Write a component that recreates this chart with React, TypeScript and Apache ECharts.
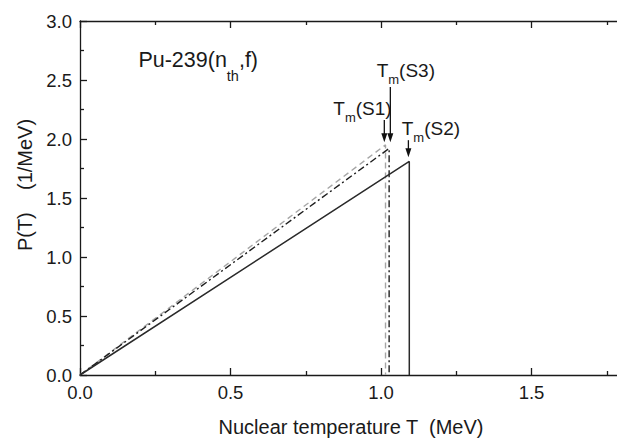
import { useEffect, useRef } from "react";
import * as echarts from "echarts";

// Series data: nuclear temperature T (MeV) and P(T) (1/MeV)
const S1_T = [0, 1.015, 1.015];
const S1_P = [0, 1.95, 0];
const S3_T = [0, 1.027, 1.027];
const S3_P = [0, 1.92, 0];
const S2_T = [0, 1.094, 1.094];
const S2_P = [0, 1.81, 0];

// Axis ranges / ticks
const X_MIN = 0;
const X_MAX = 2;
const X_INTERVAL = 0.5;
const Y_MIN = 0;
const Y_MAX = 3;
const Y_INTERVAL = 0.5;

// Annotations (data coordinates)
const ARROW_T = [1.011, 1.031, 1.091];
const ARROW_TOP = [2.16, 2.44, 1.99];
const ARROW_TIP = [1.973, 1.973, 1.845];
const LABEL_NAMES = ["S1", "S3", "S2"];
const LABEL_T = [0.8415, 0.9857, 1.0688];
const LABEL_P = [2.187, 2.512, 2.018];
const TITLE_T = 0.194;
const TITLE_P = 2.597;

const FONT = "'Liberation Sans', Arial, Helvetica, sans-serif";
const AXIS_COLOR = "#1a1a1a";
const TEXT_COLOR = "#1a1a1a";

const zip = (a: number[], b: number[]) => a.map((v, i) => [v, b[i]]);

export default function App() {
  const ref = useRef<HTMLDivElement>(null);

  useEffect(() => {
    if (!ref.current) return;
    const chart = echarts.init(ref.current, undefined, { renderer: "svg" });

    const axisLine = { show: true, onZero: false, lineStyle: { color: AXIS_COLOR, width: 1.3 } };
    const axisTick = { show: true, inside: true, length: 7, lineStyle: { color: AXIS_COLOR, width: 1.3 } };
    const minorTick = { show: true, splitNumber: 2, length: 4, lineStyle: { color: AXIS_COLOR, width: 1.3 } };
    const fmt = (v: number) => v.toFixed(1);

    const option: any = {
      animation: false,
      backgroundColor: "#ffffff",
      grid: {
        left: 80,
        top: 21,
        bottom: 67,
        right: 0,
        containLabel: false,
        outerBoundsMode: "none",
      },
      xAxis: [
        {
          type: "value",
          min: X_MIN,
          max: X_MAX,
          interval: X_INTERVAL,
          position: "bottom",
          axisLine,
          axisTick,
          minorTick,
          splitLine: { show: false },
          minorSplitLine: { show: false },
          axisLabel: {
            margin: 8,
            fontSize: 18.5,
            color: TEXT_COLOR,
            fontFamily: FONT,
            formatter: fmt,
            showMaxLabel: false,
          },
          name: "Nuclear temperature T  (MeV)",
          nameLocation: "middle",
          nameGap: 42,
          nameTextStyle: {
            fontSize: 20,
            lineHeight: 20,
            color: TEXT_COLOR,
            fontFamily: FONT,
            padding: [0, 60, 0, 0],
          },
        },
        {
          type: "value",
          min: X_MIN,
          max: X_MAX,
          interval: X_INTERVAL,
          position: "top",
          axisLine,
          axisTick,
          minorTick,
          splitLine: { show: false },
          minorSplitLine: { show: false },
          axisLabel: { show: false },
        },
      ],
      yAxis: [
        {
          type: "value",
          min: Y_MIN,
          max: Y_MAX,
          interval: Y_INTERVAL,
          position: "left",
          axisLine,
          axisTick,
          minorTick,
          splitLine: { show: false },
          minorSplitLine: { show: false },
          axisLabel: { margin: 8, fontSize: 18.5, color: TEXT_COLOR, fontFamily: FONT, formatter: fmt },
          name: "P(T)    (1/MeV)",
          nameLocation: "middle",
          nameRotate: 90,
          nameGap: 45,
          nameTextStyle: {
            fontSize: 20,
            lineHeight: 20,
            color: TEXT_COLOR,
            fontFamily: FONT,
            padding: [0, 0, 0, 26],
          },
        },
      ],
      series: [
        {
          name: "S1",
          type: "line",
          data: zip(S1_T, S1_P),
          symbol: "none",
          xAxisIndex: 0,
          yAxisIndex: 0,
          lineStyle: { color: "#a6a6a6", width: 1.4, type: [6, 4] },
          z: 2,
        },
        {
          name: "S3",
          type: "line",
          data: zip(S3_T, S3_P),
          symbol: "none",
          xAxisIndex: 0,
          yAxisIndex: 0,
          lineStyle: { color: "#1e1e1e", width: 1.4, type: [7, 3, 2, 3] },
          z: 3,
        },
        {
          name: "S2",
          type: "line",
          data: zip(S2_T, S2_P),
          symbol: "none",
          xAxisIndex: 0,
          yAxisIndex: 0,
          lineStyle: { color: "#2a2a2a", width: 1.5, type: "solid" },
          z: 4,
        },
      ],
    };

    chart.setOption(option);

    const px = (t: number, p: number) =>
      chart.convertToPixel({ seriesIndex: 0 }, [t, p]) as number[];

    const graphics: any[] = [];

    // Arrows
    ARROW_T.forEach((t, i) => {
      const top = px(t, ARROW_TOP[i]);
      const tip = px(t, ARROW_TIP[i]);
      graphics.push({
        type: "line",
        shape: { x1: top[0], y1: top[1], x2: tip[0], y2: tip[1] - 8 },
        style: { stroke: "#111", lineWidth: 1.3 },
        z: 10,
      });
      graphics.push({
        type: "polygon",
        shape: {
          points: [
            [tip[0] - 3, tip[1] - 9],
            [tip[0] + 3, tip[1] - 9],
            [tip[0], tip[1]],
          ],
        },
        style: { fill: "#111" },
        z: 10,
      });
    });

    const tok = (size: number, lh: number, pad: number) => ({
      fontSize: size,
      lineHeight: lh,
      verticalAlign: "top",
      padding: [pad, 0, 0, 0],
      fontFamily: FONT,
      fill: TEXT_COLOR,
    });

    // Tm labels
    LABEL_NAMES.forEach((n, i) => {
      const p = px(LABEL_T[i], LABEL_P[i]);
      graphics.push({
        type: "text",
        x: p[0],
        y: p[1] - 17.6,
        z: 10,
        style: {
          legacy: false,
          text: `{a|T}{s|m}{a|(${n})}`,
          fill: TEXT_COLOR,
          fontFamily: FONT,
          fontSize: 19,
          align: "left",
          verticalAlign: "top",
          rich: { a: tok(19, 22, 0), s: tok(13, 13, 12) },
        },
      });
    });

    // Reaction label
    const tp = px(TITLE_T, TITLE_P);
    graphics.push({
      type: "text",
      x: tp[0],
      y: tp[1] - 19.5,
      z: 10,
      style: {
        legacy: false,
        text: "{a|Pu-239(n}{s|th}{a|,f)}",
        fill: TEXT_COLOR,
        fontFamily: FONT,
        fontSize: 21.5,
        align: "left",
        verticalAlign: "top",
        rich: { a: tok(21.5, 24, 0), s: tok(14.5, 14, 19) },
      },
    });

    chart.setOption({ graphic: graphics });

    return () => chart.dispose();
  }, []);

  return (
    <div
      style={{
        position: "absolute",
        left: 0,
        top: 0,
        width: 617,
        height: 442,
        overflow: "hidden",
        background: "#fff",
      }}
    >
      <div ref={ref} style={{ width: 682, height: 442 }} />
    </div>
  );
}
